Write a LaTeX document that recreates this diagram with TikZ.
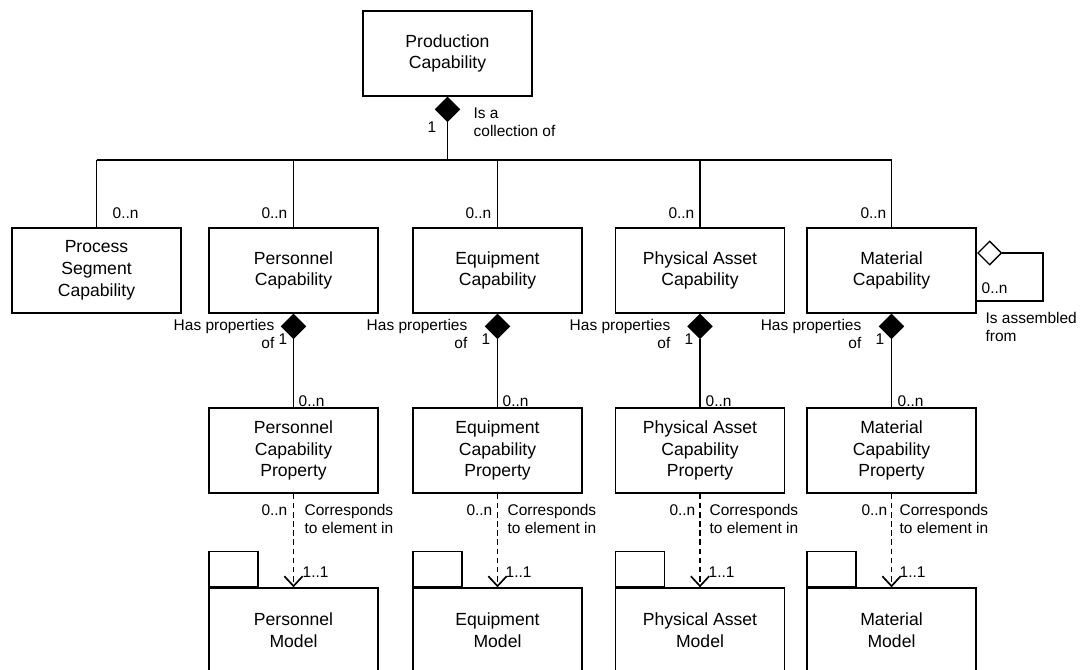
\documentclass[tikz,border=0pt]{standalone}
\usepackage{fontspec}
\setmainfont{Liberation Sans}
\usetikzlibrary{shapes.geometric,arrows.meta}

\tikzset{
  cls/.style={draw, minimum width=4.225cm, minimum height=2.125cm, inner sep=0pt,
    align=center, font=\fontsize{12.5}{15.5}\selectfont},
  agg/.style={diamond, draw, fill=black, aspect=1, minimum size=0.6cm, inner sep=0pt},
  shared/.style={agg, fill=white},
  pkgtab/.style={draw, minimum width=1.225cm, minimum height=0.875cm, inner sep=0pt},
  lbl/.style={font=\fontsize{11}{13}\selectfont, inner sep=0pt},
  dep/.style={line width=1.4pt, dash pattern=on 4pt off 2.5pt,
    -{Straight Barb[length=7pt,width=13pt,line width=1.2pt]}}
}

\begin{document}
\begin{tikzpicture}[x=0.025cm, y=-0.025cm, line width=0.95pt]
\clip (0,0) rectangle (1085,670);

% top
\node[cls] (prod) at (447.5,53.5) {Production\\Capability};
\node[agg, anchor=north] (prodD) at (prod.south) {};
\coordinate (busL) at (96.5,160);
\coordinate (busR) at (891.5,160);
\draw (prodD.south) -- (prodD.south |- busL);
\draw (busL) -- (busR);
\node[lbl] (prodOne) at (432,127) {1};
\node[lbl, anchor=west, align=left] (prodTxt) at (473,122) {Is a\\collection of};

% capabilities
\node[cls] (seg) at (96.5,270.5) {Process\\Segment\\Capability};
\node[cls] (pc) at (293.5,270.5) {Personnel\\Capability};
\node[cls] (ec) at (497.5,270.5) {Equipment\\Capability};
\node[cls] (ac) at (700,270.5) {Physical Asset\\Capability};
\node[cls] (mc) at (891.5,270.5) {Material\\Capability};

\draw (busL) -- (seg.north);
\draw (busL -| pc.north) -- (pc.north);
\draw (busL -| ec.north) -- (ec.north);
\draw (busL -| ac.north) -- (ac.north);
\draw (busR) -- (mc.north);

\node[lbl, anchor=west] (segN) at (112,213) {0..n};
\node[lbl, anchor=east] (pcN) at (288,213) {0..n};
\node[lbl, anchor=east] (ecN) at (492,213) {0..n};
\node[lbl, anchor=east] (acN) at (695,213) {0..n};
\node[lbl, anchor=east] (mcN) at (887,213) {0..n};

% assembled from
\node[shared, anchor=west] (selfD) at (977,253) {};
\coordinate (mcLoop) at (976,301);
\draw (selfD.east) -- (1043,253) |- (mcLoop);
\node[lbl, anchor=west] (selfN) at (981,288) {0..n};
\node[lbl, anchor=west, align=left] (selfTxt) at (985,327) {Is assembled\\from};

% properties
\node[agg, anchor=north] (pcD) at (pc.south) {};
\node[agg, anchor=north] (ecD) at (ec.south) {};
\node[agg, anchor=north] (acD) at (ac.south) {};
\node[agg, anchor=north] (mcD) at (mc.south) {};

\node[cls] (pcp) at (293.5,450.5) {Personnel\\Capability\\Property};
\node[cls] (ecp) at (497.5,450.5) {Equipment\\Capability\\Property};
\node[cls] (acp) at (700,450.5) {Physical Asset\\Capability\\Property};
\node[cls] (mcp) at (891.5,450.5) {Material\\Capability\\Property};

\draw (pcD.south) -- (pcp.north);
\draw (ecD.south) -- (ecp.north);
\draw (acD.south) -- (acp.north);
\draw (mcD.south) -- (mcp.north);

\node[lbl, anchor=east, align=right] (pcHas) at (275,334) {Has properties\\of};
\node[lbl, anchor=east, align=right] (ecHas) at (468,334) {Has properties\\of};
\node[lbl, anchor=east, align=right] (acHas) at (671,334) {Has properties\\of};
\node[lbl, anchor=east, align=right] (mcHas) at (862,334) {Has properties\\of};
\node[lbl] (pcOne) at (283,339) {1};
\node[lbl] (ecOne) at (486,339) {1};
\node[lbl] (acOne) at (689,339) {1};
\node[lbl] (mcOne) at (880,339) {1};
\node[lbl, anchor=west] (pcpN) at (298,401) {0..n};
\node[lbl, anchor=west] (ecpN) at (502,401) {0..n};
\node[lbl, anchor=west] (acpN) at (705,401) {0..n};
\node[lbl, anchor=west] (mcpN) at (897,401) {0..n};

% models
\node[cls] (pm) at (293.5,630.5) {Personnel\\Model};
\node[cls] (em) at (497.5,630.5) {Equipment\\Model};
\node[cls] (am) at (700,630.5) {Physical Asset\\Model};
\node[cls] (mm) at (891.5,630.5) {Material\\Model};
\node[pkgtab, anchor=south west] (pmTab) at (pm.north west) {};
\node[pkgtab, anchor=south west] (emTab) at (em.north west) {};
\node[pkgtab, anchor=south west] (amTab) at (am.north west) {};
\node[pkgtab, anchor=south west] (mmTab) at (mm.north west) {};

\draw[dep] (pcp.south) -- (pm.north);
\draw[dep] (ecp.south) -- (em.north);
\draw[dep] (acp.south) -- (am.north);
\draw[dep] (mcp.south) -- (mm.north);

\node[lbl, anchor=east] (pcpM) at (288,510) {0..n};
\node[lbl, anchor=east] (ecpM) at (493,510) {0..n};
\node[lbl, anchor=east] (acpM) at (696,510) {0..n};
\node[lbl, anchor=east] (mcpM) at (888,510) {0..n};
\node[lbl, anchor=west, align=left] (pcpTxt) at (304,519) {Corresponds\\to element in};
\node[lbl, anchor=west, align=left] (ecpTxt) at (507,519) {Corresponds\\to element in};
\node[lbl, anchor=west, align=left] (acpTxt) at (709,519) {Corresponds\\to element in};
\node[lbl, anchor=west, align=left] (mcpTxt) at (899,519) {Corresponds\\to element in};
\node[lbl, anchor=west] (pmN) at (302,572) {1..1};
\node[lbl, anchor=west] (emN) at (505,572) {1..1};
\node[lbl, anchor=west] (amN) at (708,572) {1..1};
\node[lbl, anchor=west] (mmN) at (899,572) {1..1};
\end{tikzpicture}
\end{document}
